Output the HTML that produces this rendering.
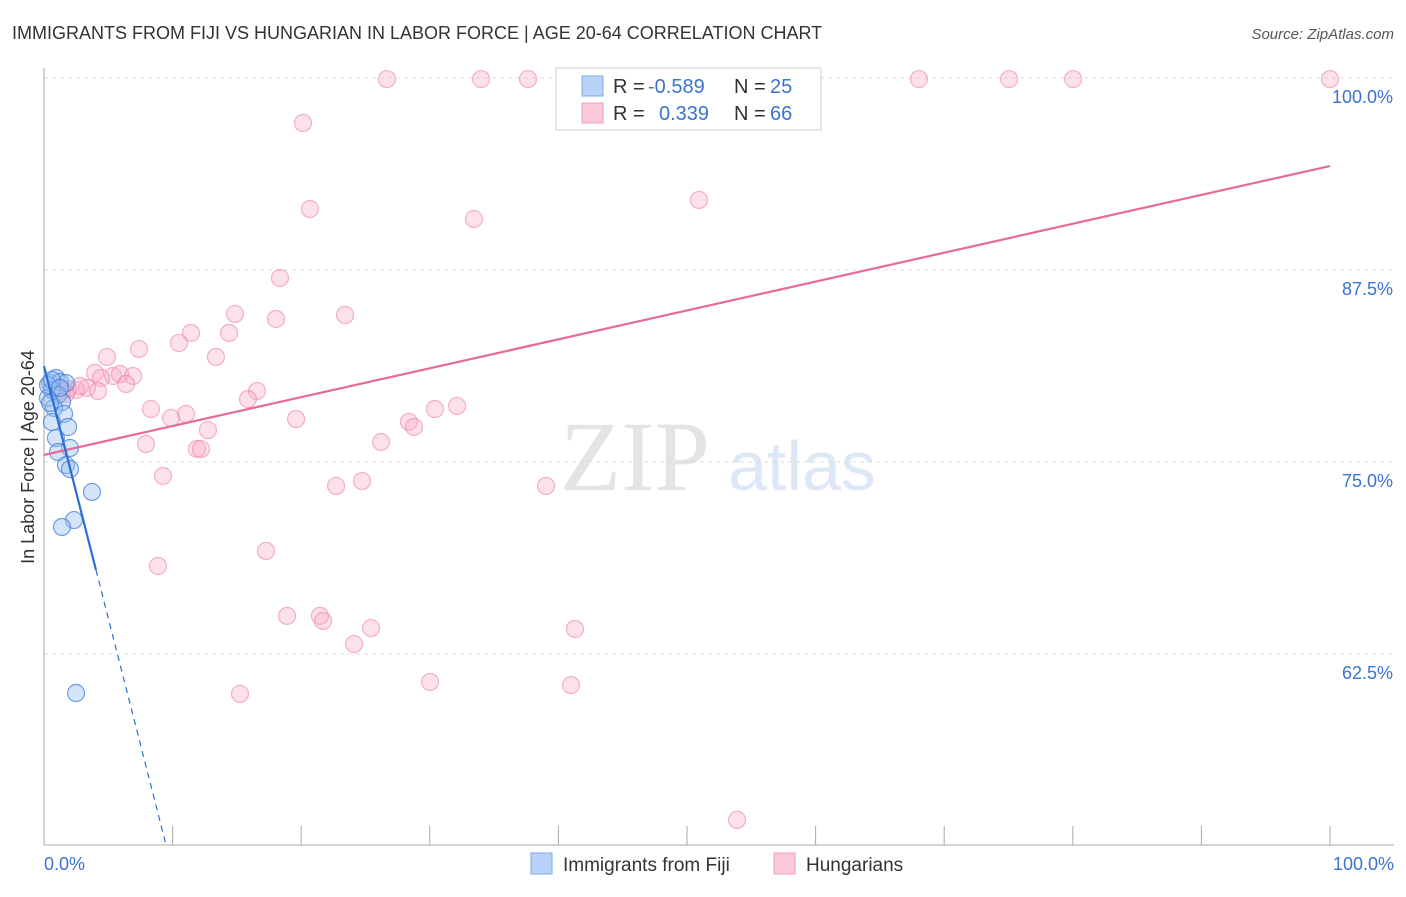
<!DOCTYPE html>
<html><head><meta charset="utf-8"><style>
body{margin:0;background:#fff;font-family:"Liberation Sans",sans-serif;}
svg text{font-family:"Liberation Sans",sans-serif;}
svg text.serif{font-family:"Liberation Serif",serif;}
</style></head><body>
<svg id="chart" width="1406" height="892">
<text x="12" y="39" font-size="18" fill="#333">IMMIGRANTS FROM FIJI VS HUNGARIAN IN LABOR FORCE | AGE 20-64 CORRELATION CHART</text>
<text x="1394" y="39" font-size="15" fill="#555" font-style="italic" text-anchor="end">Source: ZipAtlas.com</text>
<text class="serif" x="635" y="490" font-size="100" fill="#e4e4e4" text-anchor="middle">ZIP</text>
<text x="802" y="490" font-size="70" fill="#dce8f7" text-anchor="middle">atlas</text>
<g id="grid"></g><g id="axes"></g><g id="pts"></g><g id="lines"></g>
<text transform="translate(34,457) rotate(-90)" font-size="18" fill="#333" text-anchor="middle">In Labor Force | Age 20-64</text>
<text x="44" y="870" font-size="18" fill="#3b73d0">0.0%</text>
<text x="1394" y="870" font-size="18" fill="#3b73d0" text-anchor="end">100.0%</text>
<g>
<rect x="556" y="68" width="265" height="62" fill="#fff" stroke="#ccc"/>
<rect x="582" y="76" width="21" height="20" fill="#b8d3f7" stroke="#7eaaea"/>
<rect x="582" y="103" width="21" height="20" fill="#fccadb" stroke="#f0a0ba"/>
<text x="613" y="93" font-size="20" fill="#333">R =</text>
<text x="648" y="93" font-size="20" fill="#3b73d0">-0.589</text>
<text x="734" y="93" font-size="20" fill="#333">N =</text>
<text x="770" y="93" font-size="20" fill="#3b73d0">25</text>
<text x="613" y="120" font-size="20" fill="#333">R =</text>
<text x="659" y="120" font-size="20" fill="#3b73d0">0.339</text>
<text x="734" y="120" font-size="20" fill="#333">N =</text>
<text x="770" y="120" font-size="20" fill="#3b73d0">66</text>
</g>
<g>
<rect x="531" y="853" width="21" height="21" fill="#b8d3f7" stroke="#7eaaea"/>
<text x="563" y="871" font-size="19" fill="#333">Immigrants from Fiji</text></g>
<g>
<rect x="774" y="853" width="21" height="21" fill="#fccadb" stroke="#f0a0ba"/>
<text x="806" y="871" font-size="19" fill="#333">Hungarians</text></g>
</svg>
<script>
const yTicks=[62.5,75.0,87.5,100.0];
const fijiX=[0.47,0.93,1.24,1.71,0.62,1.09,0.31,1.40,0.78,1.56,0.62,1.87,0.93,2.02,1.09,1.71,2.02,3.73,2.33,1.40,2.49,0.31,0.62,1.24,0.47];
const fijiY=[80.14,80.47,80.21,80.14,79.69,79.36,79.17,78.91,78.52,78.13,77.60,77.28,76.56,75.91,75.65,74.80,74.54,73.05,71.22,70.77,59.96,80.01,80.34,79.82,78.84];
const hunX=[26.67,33.98,37.64,56.77,68.04,75.04,80.02,100.0,20.14,20.68,33.44,50.93,18.35,14.85,18.04,23.41,11.43,10.50,14.39,7.39,4.90,13.37,3.97,5.37,5.91,6.92,4.43,6.38,3.34,2.49,1.87,1.40,1.71,16.56,15.86,8.32,11.04,9.88,19.60,28.38,28.77,30.40,32.12,12.75,7.93,11.90,12.21,26.21,9.25,22.71,24.73,39.04,17.26,8.86,18.90,21.46,21.70,25.43,41.29,24.11,30.02,40.98,15.24,53.89,4.20,2.80];
const hunY=[99.93,99.93,99.93,99.93,99.93,99.93,99.93,99.93,97.07,91.47,90.82,92.06,86.98,84.64,84.31,84.57,83.40,82.75,83.40,82.36,81.84,81.84,80.80,80.60,80.73,80.60,80.47,80.08,79.82,79.69,79.75,79.62,79.43,79.62,79.10,78.45,78.13,77.87,77.80,77.61,77.28,78.45,78.65,77.08,76.17,75.85,75.85,76.30,74.09,73.44,73.76,73.44,69.21,68.23,64.98,64.98,64.65,64.19,64.13,63.15,60.68,60.48,59.90,51.70,79.62,79.95];
const hunTrend=[75.46,94.27];
const fijiTrend=[81.25,50.07];
const fijiSolidEnd=4.04, fijiDashEnd=9.49;
const NS='http://www.w3.org/2000/svg';
const sx=v=>44+v*12.86, sy=v=>78+(100-v)*15.36;
function mk(t,a,p){const e=document.createElementNS(NS,t);for(const k in a)e.setAttribute(k,a[k]);p.appendChild(e);return e;}
const grid=document.getElementById('grid'),axes=document.getElementById('axes'),pts=document.getElementById('pts'),lines=document.getElementById('lines');
yTicks.forEach(t=>{
 const l=mk('line',{x1:44,x2:1394,y1:sy(t),y2:sy(t),stroke:'#ddd','stroke-dasharray':'4,4'},grid);
 
 
 const tx=mk('text',{x:1393,y:sy(t)+25,'font-size':18,fill:'#3b73d0','text-anchor':'end'},grid);
 tx.textContent=t.toFixed(1)+'%';
 
 
});
mk('line',{x1:44,x2:44,y1:68,y2:845,stroke:'#aaa'},axes);
mk('line',{x1:44,x2:1394,y1:845,y2:845,stroke:'#aaa'},axes);
for(let i=1;i<=10;i++){const x=44+i*128.6;mk('line',{x1:x,x2:x,y1:826,y2:845,stroke:'#aaa'},axes);}
hunX.forEach((x,i)=>{
 const c=mk('circle',{cx:sx(x),cy:sy(hunY[i]),r:8.5,fill:'rgba(248,170,196,0.35)',stroke:'rgba(236,130,165,0.6)','stroke-width':1.2},pts);
 
 
});
fijiX.forEach((x,i)=>{
 const c=mk('circle',{cx:sx(x),cy:sy(fijiY[i]),r:8.5,fill:'rgba(150,190,240,0.4)',stroke:'rgba(60,120,215,0.7)','stroke-width':1.2},pts);
 
 
});
const hl=mk('line',{x1:sx(0),y1:sy(hunTrend[0]),x2:sx(100),y2:sy(hunTrend[1]),stroke:'#e8699a','stroke-width':2.2},lines);


const fy=x=>fijiTrend[0]+(fijiTrend[1]-fijiTrend[0])*x/fijiDashEnd;
const fl=mk('line',{x1:sx(0),y1:sy(fy(0)),x2:sx(fijiSolidEnd),y2:sy(fy(fijiSolidEnd)),stroke:'#2a6fd6','stroke-width':2.2},lines);


const fd=mk('line',{x1:sx(fijiSolidEnd),y1:sy(fy(fijiSolidEnd)),x2:sx(fijiDashEnd),y2:sy(fy(fijiDashEnd)),stroke:'#2a6fd6','stroke-width':1.2,'stroke-dasharray':'6,5'},lines);


</script>
</body></html>
